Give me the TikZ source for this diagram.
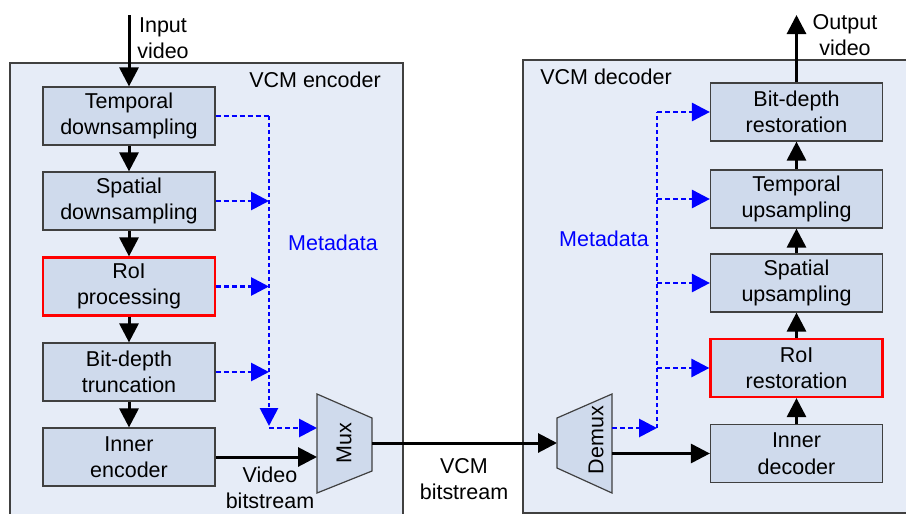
\documentclass[tikz,border=0pt]{standalone}
\usepackage{fontspec}
\setmainfont{Liberation Sans}
\usetikzlibrary{arrows.meta,positioning}
\definecolor{boxfill}{RGB}{207,218,236}
\definecolor{panelfill}{RGB}{230,236,247}
\definecolor{edgegray}{RGB}{64,64,64}
\tikzset{block/.style={draw=edgegray,fill=boxfill,line width=1.2pt,minimum width=172pt,minimum height=58pt,align=center,inner sep=0pt},
roiblock/.style={block,draw=red,line width=2.2pt},
panel/.style={draw=edgegray,fill=panelfill,line width=1.2pt},
flow/.style={line width=3pt,-{Triangle[length=19pt,width=19pt]}},
meta/.style={blue,line width=2.8pt,dash pattern=on 5pt off 3pt,-{Triangle[length=18pt,width=18pt]}},
metaline/.style={blue,line width=2.8pt,dash pattern=on 5pt off 3pt},
metabus/.style={blue,line width=2.8pt,dash pattern=on 4pt off 3pt},
lbl/.style={align=center,inner sep=0pt}}

\begin{document}
\begin{tikzpicture}[x=1pt,y=-1pt,font=\fontsize{21.5}{26.5}\selectfont]
\useasboundingbox (0,0) rectangle (906,514);
% panels
\draw[panel] (10,63) rectangle (403,520);
\draw[panel] (523,60) rectangle (912,513);
\node[lbl] (enctitle) at (315,80) {VCM encoder};
\node[lbl] (dectitle) at (606,77) {VCM decoder};

% encoder
\node [block] (tds) at (129,116) {Temporal\\downsampling};
\node [block] (sds) at (129,201) {Spatial\\downsampling};
\node [roiblock] (roip) at (129,286.5) {RoI\\processing};
\node [block] (bdt) at (129,372) {Bit-depth\\truncation};
\node [block] (ienc) at (129,457) {Inner\\encoder};
\coordinate (in) at (129,15);
\node[lbl] (inlbl) at (163,38) {Input\\video};
\draw[flow] (in) -- (tds);
\draw[flow] (tds) -- (sds);
\draw[flow] (sds) -- (roip);
\draw[flow] (roip) -- (bdt);
\draw[flow] (bdt) -- (ienc);

% mux
\coordinate (muxa) at (317,394);
\coordinate (muxb) at (372,418);
\coordinate (muxc) at (372,471);
\coordinate (muxd) at (317,493);
\draw[draw=edgegray,fill=boxfill,line width=1.2pt] (muxa) -- (muxb) -- (muxc) -- (muxd) -- cycle;
\node[lbl,rotate=90] (muxlbl) at (344,443) {Mux};
\coordinate (muxmeta) at (317,428);
\coordinate (muxvid) at (317,457);
\coordinate (muxout) at (372,443);

% metadata (encoder)
\coordinate (bus) at (269,428);
\coordinate (busend) at (269,426);
\draw[metaline] (tds.east) -- (tds.east -| bus);
\draw[metabus,-{Triangle[length=18pt,width=18pt]}] (tds.east -| bus) -- (busend);
\draw[meta] (sds.east) -- (sds.east -| bus);
\draw[meta] (roip.east) -- (roip.east -| bus);
\draw[meta] (bdt.east) -- (bdt.east -| bus);
\draw[meta] (bus) -- (muxmeta);
\node[lbl,blue] (encmeta) at (333,243) {Metadata};

\draw[flow] (ienc.east) -- (muxvid);
\node[lbl] (vidlbl) at (270,488) {Video\\bitstream};

% channel
\coordinate (demuxin) at (557,443);
\draw[flow] (muxout) -- (demuxin);
\node[lbl] (vcmlbl) at (464,479) {VCM\\bitstream};

% demux
\coordinate (dmxa) at (557,418);
\coordinate (dmxb) at (612,394);
\coordinate (dmxc) at (612,493);
\coordinate (dmxd) at (557,468);
\draw[draw=edgegray,fill=boxfill,line width=1.2pt] (dmxa) -- (dmxb) -- (dmxc) -- (dmxd) -- cycle;
\node[lbl,rotate=90] (dmxlbl) at (596,440) {Demux};
\coordinate (dmxmeta) at (612,428);
\coordinate (dmxvid) at (612,453.5);

% decoder
\node [block] (bdr) at (796.5,112) {Bit-depth\\restoration};
\node [block] (tus) at (796.5,199) {Temporal\\upsampling};
\node [block] (sus) at (796.5,283) {Spatial\\upsampling};
\node [roiblock] (roir) at (796.5,368) {RoI\\restoration};
\node [block] (idec) at (796.5,453.5) {Inner\\decoder};
\coordinate (out) at (796.5,15);
\node[lbl] (outlbl) at (845,35) {Output\\video};
\draw[flow] (idec) -- (roir);
\draw[flow] (roir) -- (sus);
\draw[flow] (sus) -- (tus);
\draw[flow] (tus) -- (bdr);
\draw[flow] (bdr) -- (out);
\draw[flow] (dmxvid) -- (idec.west);

% metadata (decoder)
\coordinate (dbus) at (657,428);
\draw[meta] (dmxmeta) -- (dbus);
\draw[metabus] (dbus) -- (dbus |- bdr.west);
\draw[meta] (dbus |- bdr.west) -- (bdr.west);
\draw[meta] (dbus |- tus.west) -- (tus.west);
\draw[meta] (dbus |- sus.west) -- (sus.west);
\draw[meta] (dbus |- roir.west) -- (roir.west);
\node[lbl,blue] (decmeta) at (604,239) {Metadata};
\end{tikzpicture}
\end{document}
